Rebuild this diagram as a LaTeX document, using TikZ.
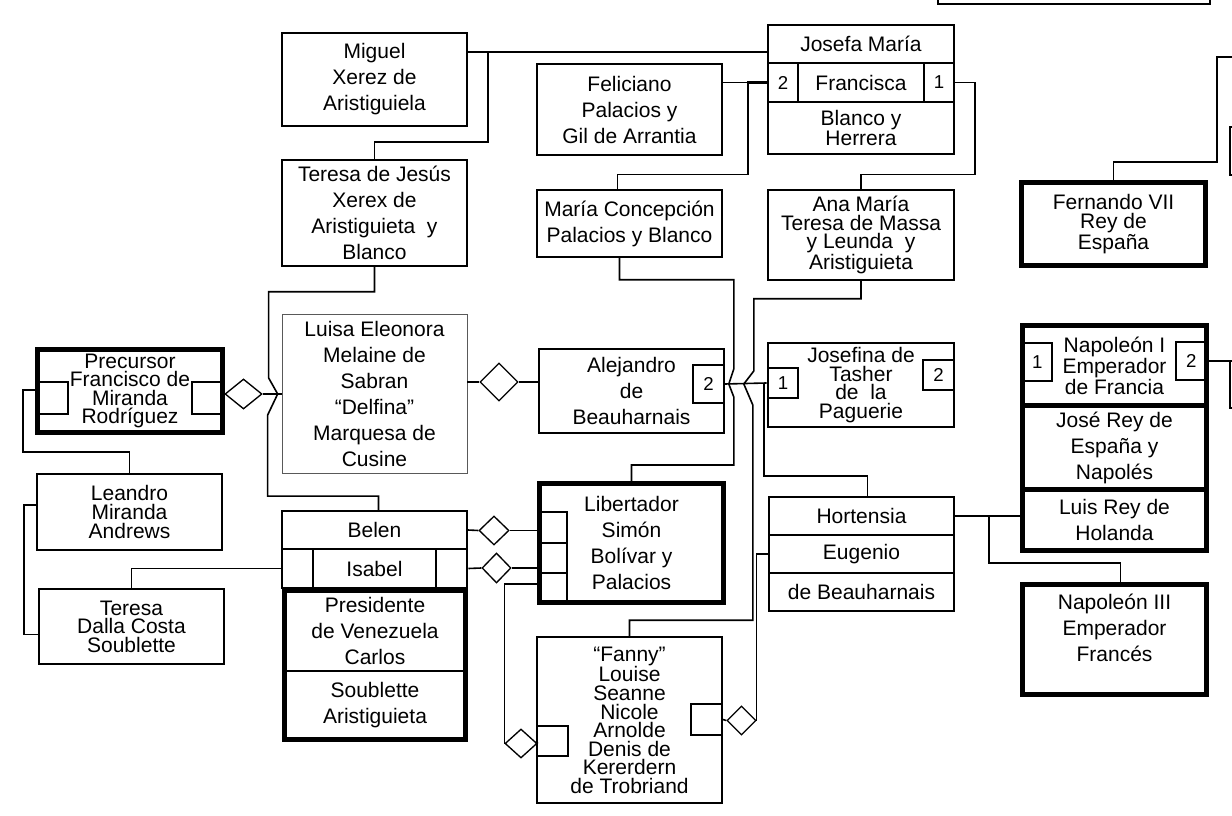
\documentclass[tikz,border=0pt]{standalone}
\usepackage{fontspec}
\setmainfont{Liberation Sans}
\usetikzlibrary{shapes.geometric,calc}

\tikzset{
  zona/.style n args={4}{minimum width={((#3)-(#1))*0.75pt},
    minimum height={((#4)-(#2))*0.75pt},
    at={({((#1)+(#3))/2},{((#2)+(#4))/2})}},
  persona/.style={draw, line width=1.2pt, inner sep=0pt, align=center,
    font=\fontsize{15.75}{19.5}\selectfont},
  apretada/.style={persona, font=\fontsize{15.75}{13.9}\selectfont},
  gruesa/.style={line width=3.75pt},
  media/.style={line width=2.2pt},
  casilla/.style={draw, line width=1.2pt, inner sep=0pt,
    font=\fontsize{14}{15}\selectfont},
  rombo/.style 2 args={draw, diamond, inner sep=0pt, line width=1pt,
    minimum width=#1*0.75pt, minimum height=#2*0.75pt},
  enlace/.style={line width=1.2pt},
}

\begin{document}
\begin{tikzpicture}[x=0.75pt, y=-0.75pt]
    \useasboundingbox (0,0) rectangle (1232,816);
    \clip (0,0) rectangle (1232,816);

    % --- Cajas cortadas en el borde ---
    \node (arriba) [persona, zona={938}{-40}{1210}{4}] {};
    \node (fueraA) [persona, zona={1230}{127}{1300}{175}] {};
    \node (fueraB) [persona, zona={1230}{361}{1300}{408}] {};
    \coordinate (fueraC) at (1240,57);

    % --- Generacion de los abuelos ---
    \node (miguel) [persona, zona={282}{33}{467}{126}] {Miguel\\Xerez de\\Aristiguiela};
    \node (feliciano) [persona, zona={537}{64}{722}{155}] {Feliciano\\Palacios y\\Gil de Arrantia};
    \node (josefa) [persona, zona={768}{25}{954}{63}] {Josefa María};
    \node (blanco) [apretada, zona={768}{102}{954}{154}] {Blanco y\\Herrera};
    \node (fr2) [casilla, zona={768}{63}{798}{102}] {2};
    \node (fr1) [casilla, zona={924}{63}{954}{102}] {1};
    \node (francisca) [persona, media, zona={768}{63}{954}{102}] {Francisca};

    % --- Hijas ---
    \node (teresa) [persona, zona={282}{160}{467}{266}] {Teresa de Jesús\\Xerex de\\Aristiguieta~~y\\Blanco};
    \node (maria) [persona, zona={537}{190}{722}{257}] {María Concepción\\Palacios y Blanco};
    \node (ana) [apretada, zona={768}{190}{954}{280}] {Ana María\\Teresa de Massa\\y Leunda~~y\\Aristiguieta};
    \node (fern) [apretada, gruesa, zona={1021.5}{182.5}{1205.5}{265.5}] {Fernando VII\\Rey de\\España};

    % --- Fila de los matrimonios ---
    \node (preL) [casilla, zona={37.5}{382}{68}{414}] {};
    \node (preR) [casilla, zona={192}{382}{222.5}{414}] {};
    \node (pre) [apretada, gruesa, zona={37.5}{349.5}{222.5}{432.5}] {Precursor\\Francisco de\\Miranda\\Rodríguez};
    \node (luisa) [persona, line width=0.7pt, draw=black!65, zona={282}{314}{467}{473}]
        {Luisa Eleonora\\Melaine de\\Sabran\\“Delfina”\\Marquesa de\\Cusine};
    \node (al2) [casilla, zona={693}{365}{724}{403}] {2};
    \node (alej) [persona, zona={539}{349}{724}{433}] {Alejandro\\de\\Beauharnais};
    \node (jf2) [casilla, zona={923}{360}{954}{390}] {2};
    \node (jo1) [casilla, media, zona={768}{368}{798}{398}] {1};
    \node (josefina) [apretada, zona={768}{343}{954}{427}] {Josefina de\\Tasher\\de~~la\\Paguerie};

    \node (np1) [casilla, zona={1022.5}{343}{1052}{381}] {1};
    \node (np2) [casilla, zona={1176}{342}{1206.5}{380}] {2};
    \node (nap) [apretada, gruesa, zona={1022.5}{325.5}{1206.5}{406}] {Napoleón I\\Emperador\\de Francia};
    \node (jose) [persona, gruesa, zona={1022.5}{406}{1206.5}{490}] {José Rey de\\España y\\Napolés};
    \node (luis) [persona, gruesa, zona={1022.5}{490}{1206.5}{550.5}] {Luis Rey de\\Holanda};

    % --- Fila de los nietos ---
    \node (leandro) [apretada, zona={37}{474}{222}{550}] {Leandro\\Miranda\\Andrews};
    \node (tdc) [apretada, zona={39}{589}{224}{664}] {Teresa\\Dalla Costa\\Soublette};
    \node (belen) [persona, zona={282}{511}{467}{549}] {Belen};
    \node (isL) [casilla, zona={282}{549}{313}{588}] {};
    \node (isR) [casilla, zona={436}{549}{467}{588}] {};
    \node (isabel) [persona, media, zona={282}{549}{467}{588}] {Isabel};
    \node (presA) [persona, zona={284.5}{590.5}{465.5}{671}] {Presidente\\de Venezuela\\Carlos};
    \node (presB) [persona, zona={284.5}{671}{465.5}{739.5}] {Soublette\\Aristiguieta};
    \node (pres) [persona, gruesa, zona={284.5}{590.5}{465.5}{739.5}] {};

    \node (libA) [casilla, zona={539.5}{512}{567}{543}] {};
    \node (libB) [casilla, zona={539.5}{543}{567}{573}] {};
    \node (libC) [casilla, zona={539.5}{573}{567}{602.5}] {};
    \node (lib) [persona, gruesa, zona={539.5}{483.5}{723.5}{602.5}] {Libertador\\Simón\\Bolívar y\\Palacios};

    \node (hort) [persona, zona={769}{497}{954}{535}] {Hortensia};
    \node (eug) [persona, zona={769}{535}{954}{573}] {Eugenio};
    \node (beau) [persona, zona={769}{573}{954}{611}] {de Beauharnais};

    \node (nap3) [persona, gruesa, zona={1022.5}{584.5}{1206.5}{694.5}] {};
    \node (nap3t) [persona, draw=none] at ($(nap3.center)+(0,-12)$) {Napoleón III\\Emperador\\Francés};

    \node (fanL) [casilla, zona={537}{726}{568}{756}] {};
    \node (fanR) [casilla, zona={691}{704}{722}{735}] {};
    \node (fanny) [apretada, zona={537}{637}{722}{803}]
        {“Fanny”\\Louise\\Seanne\\Nicole\\Arnolde\\Denis de\\Kererdern\\de Trobriand};

    % --- Rombos de union ---
    \node (dPre) [rombo={37}{30}] at (243.5,394) {};
    \node (dLui) [rombo={38}{38}] at (499,382) {};
    \node (dBel) [rombo={30}{29}] at (494,530.5) {};
    \node (dIsa) [rombo={29}{30}] at (496.5,568) {};
    \node (dFanL) [rombo={32}{29}] at (521,743.5) {};
    \node (dFanR) [rombo={29}{29}] at (741.5,720.5) {};

    % --- Lineas ---
    % Miguel y Josefa Maria, hija Teresa
    \coordinate (mj) at ($(miguel.north east)+(0,20)$);
    \draw[enlace] (mj) -- (mj -| josefa.west);
    \draw[enlace] (teresa.north) -- ++(0,-17) -| ($(mj)+(20,0)$);

    % Feliciano y Francisca, hija Maria Concepcion
    \draw[enlace] (feliciano.east |- fr2.west) -- (fr2.west);
    \draw[line width=2.2pt] ($(fr2.west)+(-20,0)$) -- (fr2.west);
    \draw[enlace] ($(fr2.west)+(-19,0)$) -- ++(0,92) -| ($(maria.north)+(-12,0)$);

    % Francisca, hija Ana Maria
    \draw[enlace] (fr1.east) -| ($(fr1.east)+(20,92)$) -| (ana.north);

    % Alejandro y Josefina
    \coordinate (mj2) at (al2.east);
    \draw[enlace] (al2.east) -- (jo1.west);
    \draw[enlace] ($(maria.south)+(-10,0)$) -- ++(0,22) -| ($(mj2)+(9,-15)$)
        -- ($(mj2)+(4,0)$) -- ($(mj2)+(9,13)$) |- ($(lib.north)+(0,-16)$) -- (lib.north);
    \draw[enlace] (ana.south) -- ++(0,18) -| ($(mj2)+(29,-13)$)
        -- ($(mj2)+(19,0)$) -- ($(mj2)+(28,21)$) |- ($(fanny.north)+(0,-16)$) -- (fanny.north);
    \draw[enlace] ($(mj2)+(39,0)$) |- ($(hort.north)+(6,-20)$) -- ($(hort.north)+(6,0)$);

    % Precursor y Luisa, hija Belen
    \draw[enlace] (preR.east) -- (dPre.west);
    \draw[enlace] (dPre.east) -- (dPre.east -| luisa.west);
    \draw[enlace] (teresa.south) -- ++(0,25) -| ($(dPre.east)+(6,-16)$)
        -- ($(dPre.east)+(15,0)$) -- ($(dPre.east)+(5,21)$) |- ($(belen.north)+(4,-14)$)
        -- ($(belen.north)+(4,0)$);

    % Luisa y Alejandro
    \draw[enlace] (luisa.east |- dLui.west) -- (dLui.west);
    \draw[enlace] (dLui.east) -- (dLui.east -| alej.west);

    % Belen, Isabel y el Libertador
    \draw[enlace] (belen.east) -- (dBel.west);
    \draw[enlace] (dBel.east) -- (dBel.east -| lib.west);
    \draw[enlace] (isabel.east) -- (dIsa.west);
    \draw[enlace] (dIsa.east) -- (dIsa.east -| lib.west);

    % Libertador, Eugenio y Fanny
    \draw[enlace] ($(libC.west)+(0,-4)$) -| (dFanL.west);
    \draw[enlace] (dFanL.east) -- (fanL.west);
    \draw[enlace] (eug.west) -| (dFanR.east);
    \draw[enlace] (dFanR.west) -- (fanR.east);

    % Miranda y Soublette
    \draw[enlace] ($(preL.west)+(0,-8)$) -- ++(-14,0) |- ($(leandro.north)+(0,-21)$) -- (leandro.north);
    \draw[enlace] ($(leandro.west)+(0,-7)$) -- ++(-12,0) |- ($(tdc.west)+(0,8)$);
    \draw[enlace] (isabel.west) -| (tdc.north);

    % Josefina, Napoleon y Hortensia
    \draw[enlace] ($(jf2.east)+(0,-8)$) -- ($(jf2.east)+(0,-8)$ -| nap.west);
    \draw[enlace] (np2.east) -- (np2.east -| fueraB.west);
    \draw[enlace] (hort.east) -- (hort.east -| luis.west);
    \draw[enlace] ($(hort.east)+(34,0)$) |- ($(nap3.north)+(6,-19)$) -- ($(nap3.north)+(6,0)$);

    % Fernando VII
    \draw[enlace] (fern.north) -- ++(0,-18) -| ($(fueraC)+(-23,0)$) -- (fueraC);
\end{tikzpicture}
\end{document}
